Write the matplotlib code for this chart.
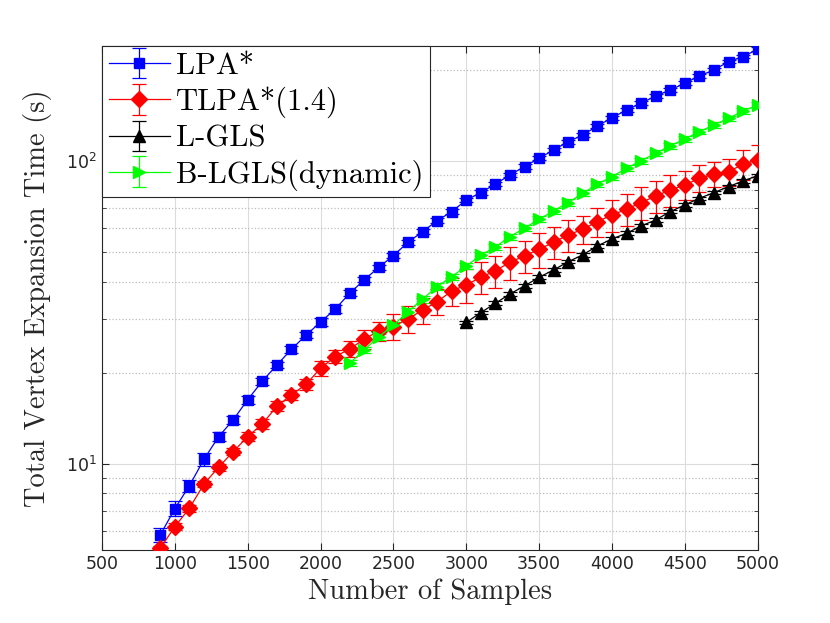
import matplotlib
matplotlib.use('Agg')
import matplotlib.pyplot as plt
from matplotlib.ticker import LogLocator, NullFormatter, MultipleLocator

# sample counts per series
x_lpa = list(range(900, 5001, 100))
x_tlpa = list(range(900, 5001, 100))
x_bl = list(range(2200, 5001, 100))
x_lgls = list(range(3000, 5001, 100))

# LPA*
y_lpa = [5.83, 7.12, 8.48, 10.36, 12.3, 13.97, 16.3, 18.75, 21.2, 23.9,
         26.6, 29.4, 32.4, 36.6, 40.5, 44.6, 48.7, 53.9, 58.4, 63.5,
         68.0, 74.3, 78.6, 83.9, 89.9, 95.8, 102.1, 108.7, 115.8, 121.8,
         130.5, 138.7, 147.3, 155.0, 163.9, 171.5, 180.5, 190.8, 199.7, 212.7,
         220.9, 233.7]
e_lpa = [0.3, 0.4, 0.4, 0.5, 0.4, 0.4, 0.5, 0.5, 0.5, 0.6,
         0.6, 0.9, 1.0, 0.8, 0.8, 0.9, 1.0, 1.0, 1.1, 1.2,
         1.2, 1.3, 1.4, 1.4, 1.5, 1.6, 1.6, 1.7, 1.8, 1.9,
         2.0, 2.1, 2.2, 2.3, 2.4, 2.5, 2.6, 2.7, 2.8, 2.9,
         3.0, 3.2]

# TLPA*(1.4)
y_tlpa = [5.27, 6.21, 7.14, 8.59, 9.75, 10.98, 12.3, 13.55, 15.5, 16.9,
          18.3, 20.7, 22.6, 23.96, 25.8, 27.5, 28.4, 30.1, 32.2, 34.3,
          37.2, 39.0, 41.3, 43.4, 46.3, 48.6, 51.1, 53.9, 57.0, 59.5,
          63.1, 66.3, 69.3, 72.9, 76.6, 80.2, 83.3, 87.7, 90.4, 92.2,
          97.5, 100.8]
e_tlpa = [0.1, 0.15, 0.2, 0.2, 0.25, 0.3, 0.4, 0.5, 0.6, 0.6,
          0.8, 1.2, 1.1, 1.4, 1.8, 2.0, 2.8, 3.0, 3.2, 3.4,
          4.0, 5.0, 5.0, 5.2, 5.8, 6.0, 6.9, 6.5, 7.0, 6.5,
          7.0, 8.0, 8.5, 9.0, 9.5, 9.5, 9.0, 9.0, 8.5, 9.5,
          11.0, 12.0]

# L-GLS
y_lgls = [29.3, 31.6, 33.9, 36.4, 38.7, 41.3, 43.7, 46.5, 49.0, 52.4,
          55.3, 57.7, 61.0, 63.9, 68.0, 71.6, 75.3, 78.6, 82.3, 85.9,
          89.4]
e_lgls = [0.4, 0.4, 0.5, 0.5, 0.5, 0.6, 0.6, 0.6, 0.7, 0.7,
          0.8, 0.8, 0.8, 0.9, 0.9, 1.0, 1.0, 1.0, 1.1, 1.1,
          1.2]

# B-LGLS(dynamic)
y_bl = [21.5, 23.8, 26.3, 28.7, 31.8, 35.0, 38.5, 41.5, 45.0, 48.9,
        52.0, 56.3, 60.0, 64.2, 68.4, 72.9, 78.2, 83.8, 88.8, 94.6,
        100.2, 106.0, 112.1, 118.2, 124.9, 131.5, 138.3, 146.2, 153.0]
e_bl = [0.5, 0.6, 0.6, 0.7, 0.8, 0.9, 0.9, 1.0, 1.1, 1.2,
        1.2, 1.3, 1.4, 1.5, 1.6, 1.7, 1.8, 1.9, 2.0, 2.1,
        2.2, 2.3, 2.4, 2.5, 2.6, 2.7, 2.8, 2.9, 3.0]

fig = plt.figure(figsize=(8.3, 6.23), dpi=100)
ax = fig.add_axes([0.1229, 0.1172, 0.7900, 0.8094])

series = [
    (x_lpa, y_lpa, e_lpa, '#0000ff', 's', 7, 'LPA*'),
    (x_tlpa, y_tlpa, e_tlpa, '#ff0000', 'D', 8.5, 'TLPA*(1.4)'),
    (x_lgls, y_lgls, e_lgls, '#000000', '^', 9, 'L-GLS'),
    (x_bl, y_bl, e_bl, '#00ff00', '>', 9, 'B-LGLS(dynamic)'),
]
for xs, ys, es, col, mk, ms, lab in series:
    ax.errorbar(xs, ys, yerr=es, color=col, marker=mk, markersize=ms,
                markerfacecolor=col, markeredgecolor=col, linewidth=0.9,
                elinewidth=0.9, capsize=5, capthick=0.9, label=lab, zorder=3)

ax.set_yscale('log')
ax.set_xlim(500, 5000)
ax.set_ylim(5.2, 240)
ax.xaxis.set_major_locator(MultipleLocator(500))
ax.yaxis.set_major_locator(LogLocator(base=10))
ax.yaxis.set_minor_locator(LogLocator(base=10, subs=range(2, 10)))
ax.yaxis.set_minor_formatter(NullFormatter())

ax.grid(True, which='major', color='#dcdcdc', linewidth=0.8, zorder=0)
ax.grid(True, which='minor', axis='y', color='#bdbdbd', linestyle=':', linewidth=0.9, zorder=0)
ax.set_axisbelow(True)

ax.tick_params(which='both', direction='in', top=True, right=True,
               colors='#262626', labelsize=12.5)
ax.tick_params(which='major', length=5)
ax.tick_params(which='minor', length=3)
for s in ax.spines.values():
    s.set_color('#262626')
    s.set_linewidth(0.8)

ax.set_xlabel('Number of Samples', family='cmr10', fontsize=20.5, color='#262626', labelpad=4)
ax.set_ylabel('Total Vertex Expansion Time (s)', family='cmr10', fontsize=20.5,
              color='#262626', labelpad=10)

leg = ax.legend(loc='upper left', borderaxespad=0, prop={'family': 'cmr10', 'size': 22},
                fancybox=False, framealpha=1, edgecolor='#262626',
                handlelength=2.0, handletextpad=0.2, labelspacing=0.22,
                borderpad=0.22)
leg.get_frame().set_linewidth(0.8)

fig.savefig('out.png', dpi=100)
